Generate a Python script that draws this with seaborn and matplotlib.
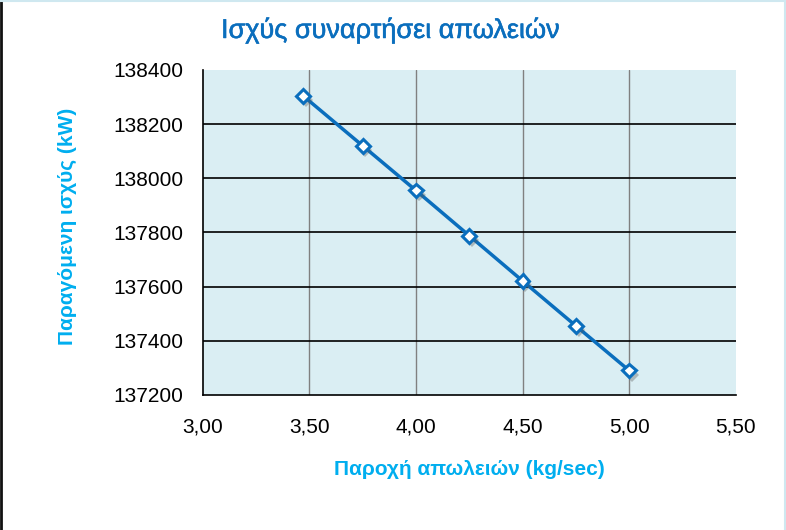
import numpy as np
import pandas as pd
import matplotlib
matplotlib.use("Agg")
import matplotlib.pyplot as plt
import matplotlib.patheffects as pe
from matplotlib.lines import Line2D
from matplotlib.ticker import FuncFormatter
import seaborn as sns

#==============================================================
# Data
#==============================================================

loss_flow = [3.47, 3.75, 4.00, 4.25, 4.50, 4.75, 5.00]
power_kw = [138305, 138120, 137955, 137788, 137621, 137455, 137290]

x_ticks = [3.00, 3.50, 4.00, 4.50, 5.00, 5.50]
y_ticks = [137200, 137400, 137600, 137800, 138000, 138200, 138400]

title_text = "Ισχύς συναρτήσει απωλειών"
x_label = "Παροχή απωλειών (kg/sec)"
y_label = "Παραγόμενη ισχύς (kW)"

df = pd.DataFrame({"flow": loss_flow, "power": power_kw})

#==============================================================
# Plot
#==============================================================

sns.set_style("white")
plt.rcParams["font.family"] = ["Liberation Sans", "DejaVu Sans"]

fig = plt.figure(figsize=(7.86, 5.30), dpi=100)
ax = fig.add_axes([0.258, 0.255, 0.678, 0.613])
ax.set_facecolor("#DAEEF3")

ax.set_xlim(3.0, 5.5)
ax.set_ylim(137200, 138400)
ax.set_xticks(x_ticks)
ax.set_yticks(y_ticks)

# grid: gray vertical, black horizontal (none on the top edge)
for xv in x_ticks[1:-1]:
    ax.axvline(xv, color="#808080", lw=1.0, zorder=1)
for yv in y_ticks[1:-1]:
    ax.axhline(yv, color="black", lw=1.2, zorder=1)

sns.lineplot(data=df, x="flow", y="power", ax=ax, color="#0A6EBD", lw=2.5,
             marker="D", markersize=7, markerfacecolor="white",
             markeredgecolor="#0A6EBD", markeredgewidth=2.2, zorder=3,
             path_effects=[pe.SimplePatchShadow(offset=(2, -3), shadow_rgbFace="#555555", alpha=0.35),
                           pe.Normal()])

ax.xaxis.set_major_formatter(FuncFormatter(lambda v, p: f"{v:.2f}".replace(".", ",")))
ax.yaxis.set_major_formatter(FuncFormatter(lambda v, p: f"{int(v)}"))
ax.tick_params(axis="both", length=0, labelsize=15, colors="black")
ax.tick_params(axis="x", pad=16)
ax.tick_params(axis="y", pad=14)

for s in ["top", "right"]:
    ax.spines[s].set_visible(False)
for s in ["left", "bottom"]:
    ax.spines[s].set_color("black")
    ax.spines[s].set_linewidth(1.2)

ax.set_xlabel(x_label, fontsize=15, fontweight="bold", color="#00AEEF", labelpad=17)
ax.set_ylabel(y_label, fontsize=15, fontweight="bold", color="#00AEEF")
ax.yaxis.set_label_coords(-0.236, 0.52)
fig.text(0.497, 0.943, title_text, ha="center", va="center", fontsize=19.5, color="#0A6EBD",
         path_effects=[pe.withStroke(linewidth=0.4, foreground="#0A6EBD")])

# outer frame: dark left edge, light top/right edges
fig.add_artist(Line2D([0.001, 0.001], [0, 1], transform=fig.transFigure, color="#111111", lw=2))
fig.add_artist(Line2D([0, 1], [0.998, 0.998], transform=fig.transFigure, color="#CFE8F0", lw=1.5))
fig.add_artist(Line2D([0.999, 0.999], [0, 1], transform=fig.transFigure, color="#CFE8F0", lw=1.5))

fig.savefig("out.png", dpi=100)
